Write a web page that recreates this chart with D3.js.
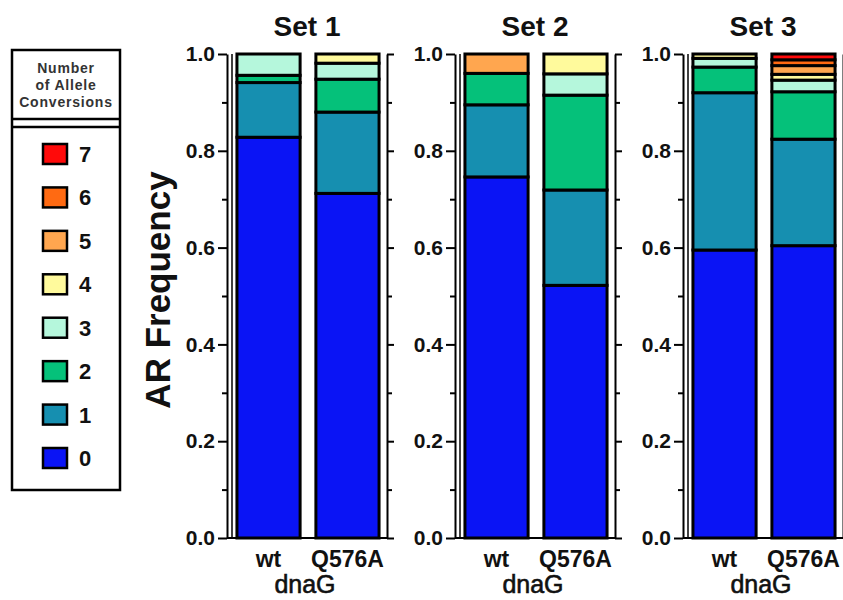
<!DOCTYPE html>
<html>
<head>
<meta charset="utf-8">
<script src="https://cdn.jsdelivr.net/npm/d3@7"></script>
<style>
  body { margin: 0; background: #fff; }
  svg text { font-family: "Liberation Sans", Arial, sans-serif; font-weight: bold; }
</style>
</head>
<body>
<svg id="chart" width="843" height="600"></svg>
<script>
// chart data
const sets = ["Set 1", "Set 2", "Set 3"];
const genotypes = ["wt", "Q576A"];
const conversions = ["0", "1", "2", "3", "4", "5", "6", "7"];
const yTicks = [0, 0.2, 0.4, 0.6, 0.8, 1.0];
const yMinorTicks = [0.1, 0.3, 0.5, 0.7, 0.9];

// frequencies for 0..7 allele conversions
const set1Wt    = [0.828, 0.113, 0.015, 0.044, 0, 0, 0, 0];
const set1Q576A = [0.712, 0.168, 0.068, 0.033, 0.019, 0, 0, 0];
const set2Wt    = [0.746, 0.149, 0.065, 0, 0, 0.040, 0, 0];
const set2Q576A = [0.522, 0.197, 0.196, 0.044, 0.041, 0, 0, 0];
const set3Wt    = [0.595, 0.325, 0.053, 0.018, 0.009, 0, 0, 0];
const set3Q576A = [0.604, 0.220, 0.098, 0.024, 0.012, 0.018, 0.012, 0.012];

const values = [[set1Wt, set1Q576A], [set2Wt, set2Q576A], [set3Wt, set3Q576A]];

const colors = ["#0a14f5", "#168fb0", "#05c17a", "#b5f7dc", "#fffa9c", "#ffa64f", "#ff6a12", "#ff0a0a"];
const color = d3.scaleOrdinal().domain(conversions).range(colors);

const svg = d3.select("#chart");

const y = d3.scaleLinear().domain([0, 1]).range([538, 54]);
const panelX = d3.scaleBand().domain(sets).range([227, 911]);
const panelW = 160;
const x = d3.scaleBand().domain(genotypes).range([6, 156]).paddingInner(0.2).paddingOuter(0.05);

const stack = d3.stack().keys(conversions);

sets.forEach(function(s, i) {
  const rows = genotypes.map(function(g, j) {
    const r = { genotype: g };
    conversions.forEach(function(c, k) { r[c] = values[i][j][k]; });
    return r;
  });
  const series = stack(rows);

  const g = svg.append("g").attr("transform", "translate(" + panelX(s) + ",0)");

  // bars
  g.append("g").selectAll("g")
    .data(series)
    .join("g")
    .attr("fill", function(d) { return color(d.key); })
    .selectAll("rect")
    .data(function(d) { return d.filter(function(p) { return p[1] - p[0] > 0; }); })
    .join("rect")
    .attr("x", function(d) { return x(d.data.genotype); })
    .attr("width", x.bandwidth())
    .attr("y", function(d) { return y(d[1]); })
    .attr("height", function(d) { return y(d[0]) - y(d[1]); })
    .attr("stroke", "#000")
    .attr("stroke-width", 3);

  // left axis
  const left = g.append("g")
    .call(d3.axisLeft(y).tickValues(yTicks).tickFormat(d3.format(".1f")).tickSize(9).tickSizeOuter(0).tickPadding(3));
  left.selectAll("text").attr("font-size", 21).attr("fill", "#111");
  g.append("g")
    .call(d3.axisLeft(y).tickValues(yMinorTicks).tickFormat("").tickSize(5))
    .select(".domain").remove();

  // inner left line
  g.append("line").attr("x1", 5).attr("x2", 5).attr("y1", y(0)).attr("y2", y(1))
    .attr("stroke", "#000").attr("stroke-width", 1.5);

  // right mirror axis
  g.append("g").attr("transform", "translate(" + panelW + ",0)")
    .call(d3.axisRight(y).tickValues(yTicks).tickFormat("").tickSize(7).tickSizeOuter(0));
  g.append("g").attr("transform", "translate(" + panelW + ",0)")
    .call(d3.axisRight(y).tickValues(yMinorTicks).tickFormat("").tickSize(5))
    .select(".domain").remove();

  // bottom line
  g.append("line").attr("x1", 0).attr("x2", panelW).attr("y1", y(0)).attr("y2", y(0))
    .attr("stroke", "#000").attr("stroke-width", 2);

  g.selectAll(".domain, .tick line").attr("stroke", "#000").attr("stroke-width", 2);

  // x labels
  g.append("g").selectAll("text")
    .data(genotypes)
    .join("text")
    .attr("x", function(d) { return x(d) + x.bandwidth() / 2; })
    .attr("y", 567)
    .attr("text-anchor", "middle")
    .attr("font-size", 23)
    .attr("fill", "#111")
    .text(function(d) { return d; });

  g.append("text")
    .attr("x", 78).attr("y", 593)
    .attr("text-anchor", "middle")
    .attr("font-size", 25)
    .style("font-weight", "normal")
    .attr("stroke", "#111").attr("stroke-width", 0.6)
    .attr("fill", "#111")
    .text("dnaG");

  // title
  g.append("text")
    .attr("x", 80).attr("y", 36)
    .attr("text-anchor", "middle")
    .attr("font-size", 28)
    .attr("fill", "#111")
    .text(s);
});

// y axis title
svg.append("text")
  .attr("transform", "translate(170,290) rotate(-90)")
  .attr("text-anchor", "middle")
  .attr("font-size", 35)
  .attr("fill", "#111")
  .text("AR Frequency");

// legend
const legend = svg.append("g");
legend.append("rect").attr("x", 12).attr("y", 50).attr("width", 108).attr("height", 440)
  .attr("fill", "none").attr("stroke", "#000").attr("stroke-width", 2.5);
legend.append("line").attr("x1", 12).attr("x2", 120).attr("y1", 119).attr("y2", 119)
  .attr("stroke", "#000").attr("stroke-width", 2.5);
legend.append("line").attr("x1", 12).attr("x2", 120).attr("y1", 127).attr("y2", 127)
  .attr("stroke", "#000").attr("stroke-width", 2.5);
legend.append("g").selectAll("text")
  .data(["Number", "of Allele", "Conversions"])
  .join("text")
  .attr("x", 66)
  .attr("y", function(d, i) { return 73 + i * 17; })
  .attr("text-anchor", "middle")
  .attr("font-size", 14)
  .attr("letter-spacing", 0.8)
  .attr("fill", "#333")
  .text(function(d) { return d; });

const legendY = d3.scalePoint().domain(conversions.slice().reverse()).range([154, 458]);
const items = legend.append("g").selectAll("g")
  .data(conversions)
  .join("g")
  .attr("transform", function(d) { return "translate(0," + legendY(d) + ")"; });
items.append("rect")
  .attr("x", 43).attr("y", -10).attr("width", 24).attr("height", 20)
  .attr("fill", function(d) { return color(d); })
  .attr("stroke", "#000").attr("stroke-width", 2.5);
items.append("text")
  .attr("x", 79).attr("y", 8)
  .attr("font-size", 22)
  .attr("fill", "#111")
  .text(function(d) { return d; });
</script>
</body>
</html>
